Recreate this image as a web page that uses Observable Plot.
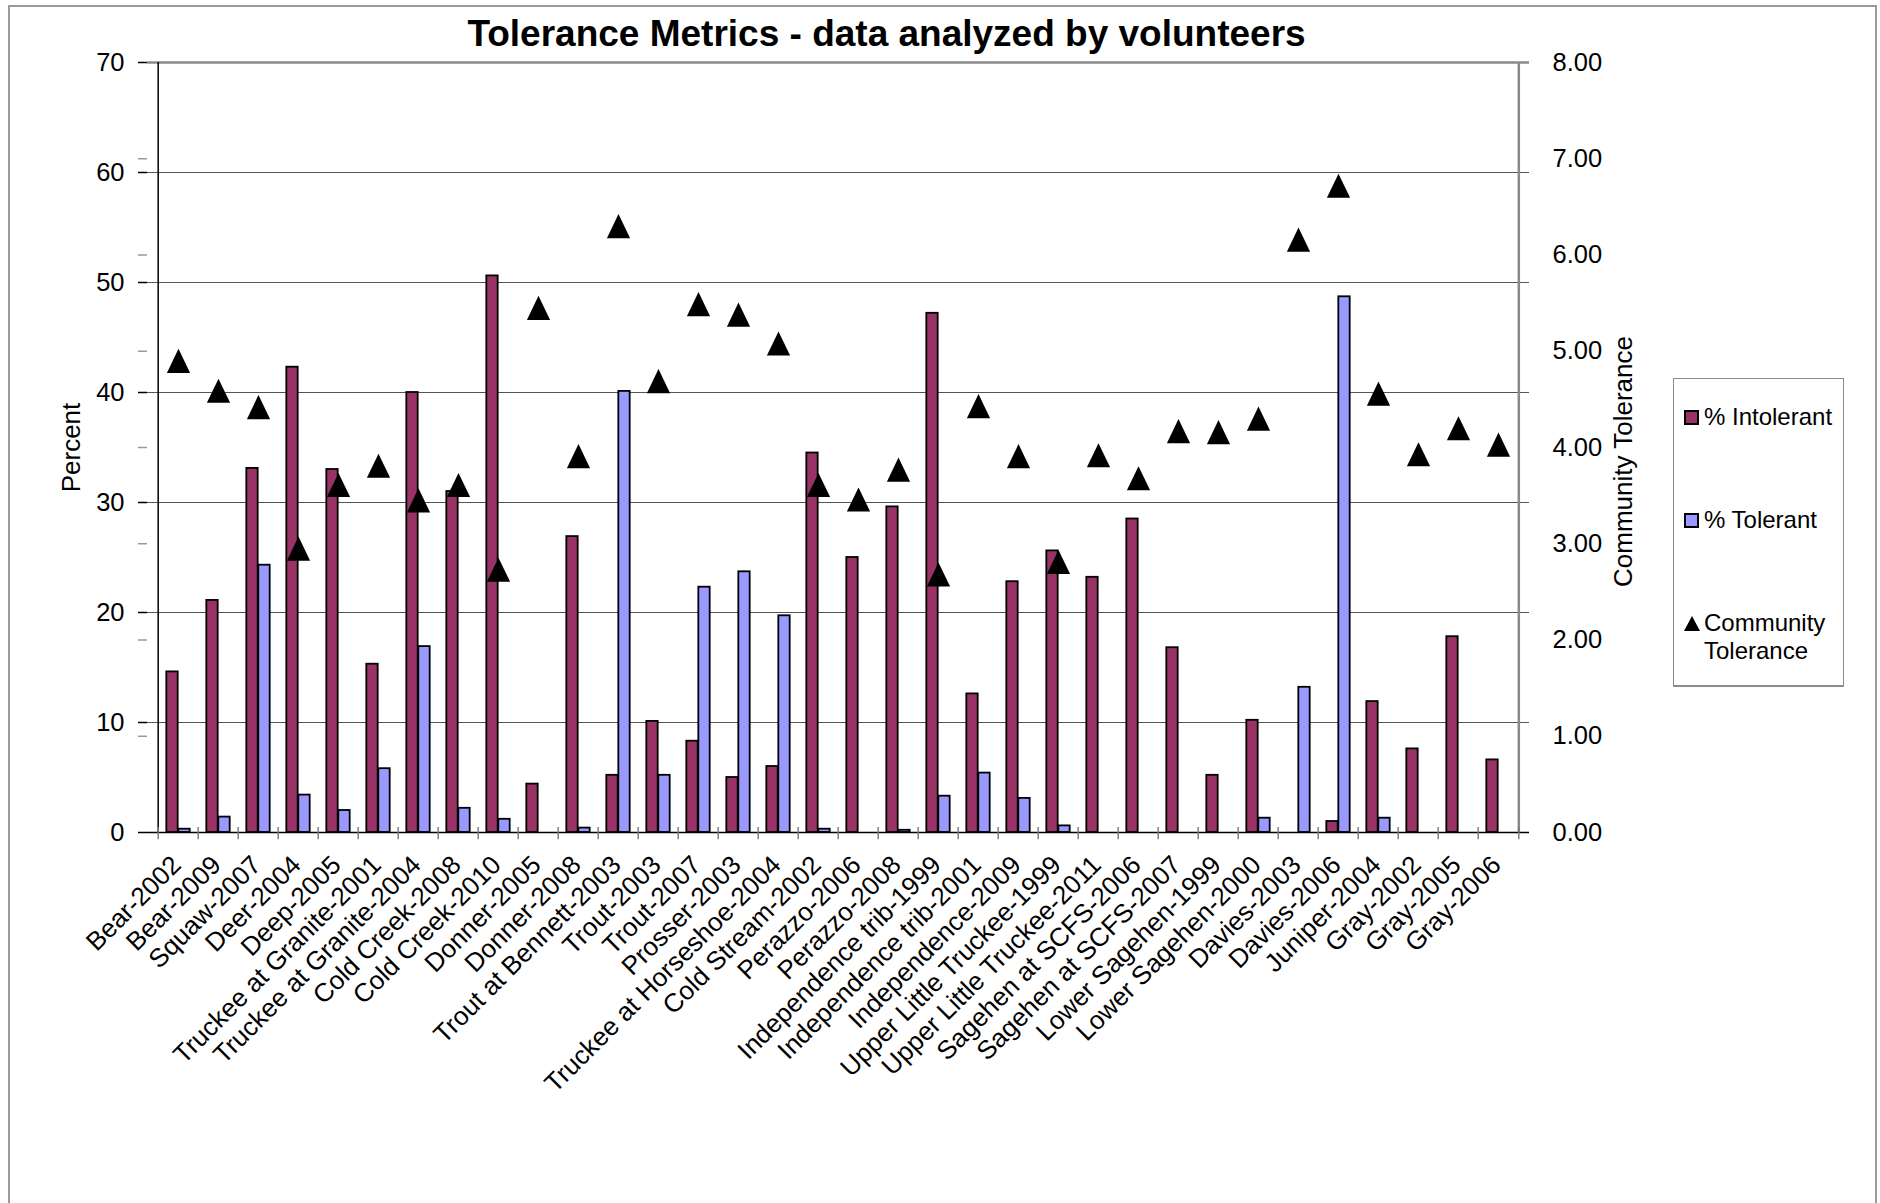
<!DOCTYPE html>
<html>
<head>
<meta charset="utf-8">
<title>Tolerance Metrics</title>
<script src="https://cdn.jsdelivr.net/npm/d3@7"></script>
<script src="https://cdn.jsdelivr.net/npm/@observablehq/plot@0.6"></script>
<style>
  html, body { margin: 0; padding: 0; background: #fff; }
  body {
    width: 1880px; height: 1203px; position: relative; overflow: hidden;
    font-family: "Liberation Sans", Arial, sans-serif; color: #000;
  }
  #chart { position: absolute; left: 0; top: 0; }
  #outline {
    position: absolute; left: 8px; top: 5px; width: 1869px; height: 1300px;
    border: 2px solid #9a9a9a; box-sizing: border-box; pointer-events: none;
  }
  #legend {
    position: absolute; left: 1673px; top: 378px; width: 171px; height: 309px;
    box-sizing: border-box; border: 1.5px solid #8c8c8c; border-bottom-width: 2px;
    background: #fff; font-size: 24px; line-height: 28px;
  }
  #legend .item { position: absolute; left: 10px; display: flex; align-items: flex-start; white-space: nowrap; }
  #legend .swatch { width: 15px; height: 15px; box-sizing: border-box; border: 2px solid #000; margin: 7px 5px 0 0; flex: none; }
  #legend svg { margin: 7px 4px 0 0; flex: none; }
</style>
</head>
<body>
<div id="chart"></div>
<div id="legend"></div>
<div id="outline"></div>
<script>
// Sampling sites (site-year)
const sites = [
  "Bear-2002", "Bear-2009", "Squaw-2007", "Deer-2004", "Deep-2005",
  "Truckee at Granite-2001", "Truckee at Granite-2004", "Cold Creek-2008", "Cold Creek-2010",
  "Donner-2005", "Donner-2008", "Trout at Bennett-2003", "Trout-2003", "Trout-2007",
  "Prosser-2003", "Truckee at Horseshoe-2004", "Cold Stream-2002", "Perazzo-2006", "Perazzo-2008",
  "Independence trib-1999", "Independence trib-2001", "Independence-2009",
  "Upper Little Truckee-1999", "Upper Little Truckee-2011", "Sagehen at SCFS-2006",
  "Sagehen at SCFS-2007", "Lower Sagehen-1999", "Lower Sagehen-2000", "Davies-2003",
  "Davies-2006", "Juniper-2004", "Gray-2002", "Gray-2005", "Gray-2006"
];

// % Intolerant taxa
const intolerant = [
  14.6, 21.1, 33.1, 42.3, 33.0, 15.3, 40.0, 31.0, 50.6,
  4.4, 26.9, 5.2, 10.1, 8.3, 5.0, 6.0, 34.5, 25.0, 29.6,
  47.2, 12.6, 22.8, 25.6, 23.2, 28.5, 16.8, 5.2, 10.2, 0,
  1.0, 11.9, 7.6, 17.8, 6.6
];

// % Tolerant taxa
const tolerant = [
  0.3, 1.4, 24.3, 3.4, 2.0, 5.8, 16.9, 2.2, 1.2,
  0, 0.4, 40.1, 5.2, 22.3, 23.7, 19.7, 0.3, 0, 0.2,
  3.3, 5.4, 3.1, 0.6, 0, 0, 0, 0, 1.3, 13.2,
  48.7, 1.3, 0, 0, 0
];

// Community tolerance value (right axis)
const communityTolerance = [
  4.90, 4.59, 4.42, 2.95, 3.61, 3.81, 3.45, 3.61, 2.73,
  5.45, 3.91, 6.30, 4.69, 5.49, 5.38, 5.08, 3.61, 3.46, 3.77,
  2.68, 4.43, 3.91, 2.81, 3.92, 3.68, 4.17, 4.16, 4.30, 6.16,
  6.72, 4.56, 3.93, 4.20, 4.03
];

const percentTicks = [0, 10, 20, 30, 40, 50, 60, 70];
const toleranceTicks = [0, 1, 2, 3, 4, 5, 6, 7, 8];

const titleText = "Tolerance Metrics - data analyzed by volunteers";
const leftTitle = "Percent";
const rightTitle = "Community Tolerance";
const seriesNames = ["% Intolerant", "% Tolerant", "Community Tolerance"];
const colors = { intolerant: "#993366", tolerant: "#9999ff", community: "#000000" };

// Layout
const W = 1880, H = 1203;
const margin = { top: 62, right: 351, bottom: 371, left: 147 };
const bw = (W - margin.left - margin.right) / sites.length;   // band width per site
const barW = 12;                                                 // width of each bar
const k = 70 / 8;                                                // right axis unit -> percent

const rows = sites.map((site, i) => ({
  site,
  intolerant: intolerant[i],
  tolerant: tolerant[i],
  ct: communityTolerance[i]
}));

// Triangle marker centred on its value
const triangle = {
  draw(ctx, size) {
    const r = Math.sqrt(size / Math.PI);
    const h = r * 1.04;
    ctx.moveTo(0, -h);
    ctx.lineTo(r, h);
    ctx.lineTo(-r, h);
    ctx.closePath();
  }
};

const chart = Plot.plot({
  width: W,
  height: H,
  marginTop: margin.top,
  marginRight: margin.right,
  marginBottom: margin.bottom,
  marginLeft: margin.left,
  style: {
    fontFamily: "'Liberation Sans', Arial, sans-serif",
    fontSize: "25px",
    color: "#000",
    background: "#fff",
    overflow: "visible"
  },
  x: { domain: sites, padding: 0, axis: null },
  y: { domain: [0, 70] },
  marks: [
    // horizontal gridlines
    Plot.ruleY(percentTicks.filter(v => v > 0 && v < 70), { stroke: "#555", strokeWidth: 1 }),

    // bars
    Plot.barY(rows.filter(d => d.intolerant > 0), {
      x: "site", y: "intolerant", fill: colors.intolerant,
      stroke: "#000", strokeWidth: 1.8,
      insetLeft: bw / 2 - barW, insetRight: bw / 2
    }),
    Plot.barY(rows.filter(d => d.tolerant > 0), {
      x: "site", y: "tolerant", fill: colors.tolerant,
      stroke: "#000", strokeWidth: 1.8,
      insetLeft: bw / 2, insetRight: bw / 2 - barW
    }),

    // plot-area border: grey top and right, black axes left and bottom
    Plot.ruleY([70], { stroke: "#8a8a8a", strokeWidth: 2.5 }),
    Plot.ruleX([sites[sites.length - 1]], { dx: bw / 2, stroke: "#8a8a8a", strokeWidth: 2.5 }),
    Plot.ruleX([sites[0]], { dx: -bw / 2, stroke: "#000", strokeWidth: 1.5 }),
    Plot.ruleY([0], { stroke: "#000", strokeWidth: 1.5 }),

    // category separators on the x axis
    Plot.ruleX(sites, { dx: -bw / 2, y1: -0.65, y2: 0.45, stroke: "#7a7a7a", strokeWidth: 1.4 }),
    Plot.ruleX([sites[sites.length - 1]], { dx: bw / 2, y1: -0.65, y2: 0.45, stroke: "#7a7a7a", strokeWidth: 1.4 }),

    // community tolerance markers (secondary scale 0–8 mapped onto 0–70)
    Plot.dot(rows, {
      x: "site", y: d => d.ct * k, r: 11.6,
      symbol: triangle, fill: colors.community, stroke: null
    }),

    // left axis
    Plot.axisY({
      anchor: "left", ticks: percentTicks, tickSize: 9, tickPadding: 14,
      tickFormat: d => String(d), stroke: "#000", strokeWidth: 1.5,
      fontSize: 25.5, label: null
    }),
    // secondary-axis tick positions echoed on the left
    Plot.axisY({
      anchor: "left", ticks: toleranceTicks.slice(1, -1).map(v => v * k), tickSize: 9,
      tickFormat: () => "", stroke: "#9a9a9a", strokeWidth: 1.5, label: null
    }),
    // right axis
    Plot.axisY({
      anchor: "right", ticks: toleranceTicks.map(v => v * k), tickSize: 0, tickPadding: 23,
      tickFormat: d => (d / k).toFixed(2), fontSize: 25.5, label: null
    }),

    // rotated site labels
    Plot.text(sites, {
      x: d => d, text: d => d, frameAnchor: "bottom",
      rotate: -45, textAnchor: "end", lineAnchor: "bottom",
      dx: 4, dy: 34, fontSize: 26
    }),

    // axis titles
    Plot.text([leftTitle], {
      frameAnchor: "left", textAnchor: "middle", rotate: -90, dx: -76, fontSize: 26
    }),
    Plot.text([rightTitle], {
      frameAnchor: "right", textAnchor: "middle", rotate: -90, dx: 94, dy: 14, fontSize: 26
    }),

    // chart title
    Plot.text([titleText], {
      frameAnchor: "top", textAnchor: "middle", lineAnchor: "bottom", dx: 48, dy: -17,
      fontSize: 37, fontWeight: "bold"
    })
  ]
});

document.getElementById("chart").append(chart);

// Legend
const legend = document.getElementById("legend");
const items = [
  { label: seriesNames[0], top: 24, kind: "box", color: colors.intolerant },
  { label: seriesNames[1], top: 127, kind: "box", color: colors.tolerant },
  { label: "Community<br>Tolerance", top: 230, kind: "tri", color: colors.community }
];
for (const it of items) {
  const row = document.createElement("div");
  row.className = "item";
  row.style.top = it.top + "px";
  if (it.kind === "box") {
    const sw = document.createElement("div");
    sw.className = "swatch";
    sw.style.background = it.color;
    row.append(sw);
  } else {
    const ns = "http://www.w3.org/2000/svg";
    const s = document.createElementNS(ns, "svg");
    s.setAttribute("width", 16);
    s.setAttribute("height", 15);
    const p = document.createElementNS(ns, "path");
    p.setAttribute("d", "M8,0L16,15L0,15Z");
    p.setAttribute("fill", it.color);
    s.append(p);
    row.append(s);
  }
  const t = document.createElement("div");
  t.innerHTML = it.label;
  row.append(t);
  legend.append(row);
}
</script>
</body>
</html>
